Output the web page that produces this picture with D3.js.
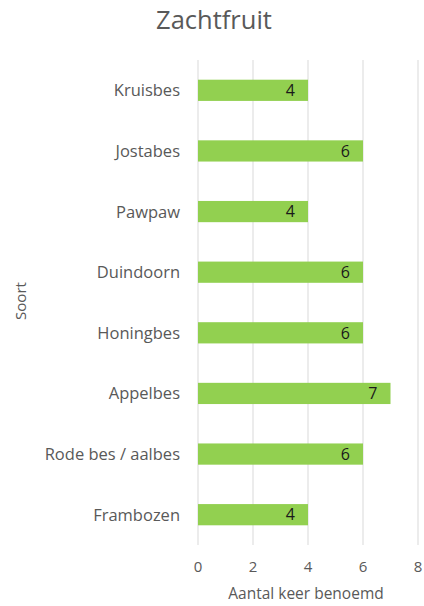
<!DOCTYPE html>
<html>
<head>
<meta charset="utf-8">
<script src="https://cdn.jsdelivr.net/npm/d3@7"></script>
<style>
  body { margin: 0; background: #fff; }
  text { font-family: "Open Sans", "Noto Sans", sans-serif; }
</style>
</head>
<body>
<div id="chart"></div>
<script>
const soorten = ["Kruisbes", "Jostabes", "Pawpaw", "Duindoorn", "Honingbes", "Appelbes", "Rode bes / aalbes", "Frambozen"];
const aantallen = [4, 6, 4, 6, 6, 7, 6, 4];
const xTicks = [0, 2, 4, 6, 8];

const drawChart = () => {
  const width = 424;
  const height = 606;
  const margin = { top: 60, right: 6, bottom: 61, left: 198 };

  const svg = d3.select("#chart")
    .append("svg")
    .attr("width", width)
    .attr("height", height);

  const x = d3.scaleLinear()
    .domain([0, 8])
    .range([margin.left, width - margin.right]);

  const y = d3.scaleBand()
    .domain(soorten)
    .range([margin.top, height - margin.bottom])
    .paddingInner(0.65)
    .paddingOuter(0.325);

  // gridlines
  svg.append("g")
    .selectAll("line")
    .data(xTicks)
    .enter()
    .append("line")
    .attr("x1", d => x(d))
    .attr("x2", d => x(d))
    .attr("y1", margin.top)
    .attr("y2", height - margin.bottom)
    .attr("stroke", "#d9d9d9")
    .attr("stroke-width", 1);

  // bars
  svg.append("g")
    .selectAll("rect")
    .data(aantallen)
    .enter()
    .append("rect")
    .attr("x", x(0))
    .attr("y", (d, i) => y(soorten[i]))
    .attr("width", d => x(d) - x(0))
    .attr("height", y.bandwidth())
    .attr("fill", "#92d050");

  // data labels
  svg.append("g")
    .selectAll("text")
    .data(aantallen)
    .enter()
    .append("text")
    .attr("x", d => x(d) - 13)
    .attr("y", (d, i) => y(soorten[i]) + y.bandwidth() / 2)
    .attr("dy", "0.36em")
    .attr("text-anchor", "end")
    .attr("font-size", 16)
    .attr("fill", "#1a1a1a")
    .text(d => d);

  // category labels
  svg.append("g")
    .selectAll("text")
    .data(soorten)
    .enter()
    .append("text")
    .attr("x", margin.left - 18)
    .attr("y", d => y(d) + y.bandwidth() / 2)
    .attr("dy", "0.36em")
    .attr("text-anchor", "end")
    .attr("font-size", 16.5)
    .attr("fill", "#595959")
    .text(d => d);

  // x tick labels
  svg.append("g")
    .selectAll("text")
    .data(xTicks)
    .enter()
    .append("text")
    .attr("x", d => x(d))
    .attr("y", 567)
    .attr("dy", "0.36em")
    .attr("text-anchor", "middle")
    .attr("font-size", 15)
    .attr("fill", "#595959")
    .text(d => d);

  // axis titles
  svg.append("text")
    .attr("x", 306)
    .attr("y", 593)
    .attr("dy", "0.36em")
    .attr("text-anchor", "middle")
    .attr("font-size", 15.5)
    .attr("fill", "#595959")
    .text("Aantal keer benoemd");

  svg.append("text")
    .attr("transform", "translate(21,301) rotate(-90)")
    .attr("dy", "0.36em")
    .attr("text-anchor", "middle")
    .attr("font-size", 15)
    .attr("fill", "#595959")
    .text("Soort");

  // title
  svg.append("text")
    .attr("x", 214)
    .attr("y", 29)
    .attr("text-anchor", "middle")
    .attr("font-size", 25.5)
    .attr("fill", "#595959")
    .text("Zachtfruit");
};

drawChart();
</script>
</body>
</html>
